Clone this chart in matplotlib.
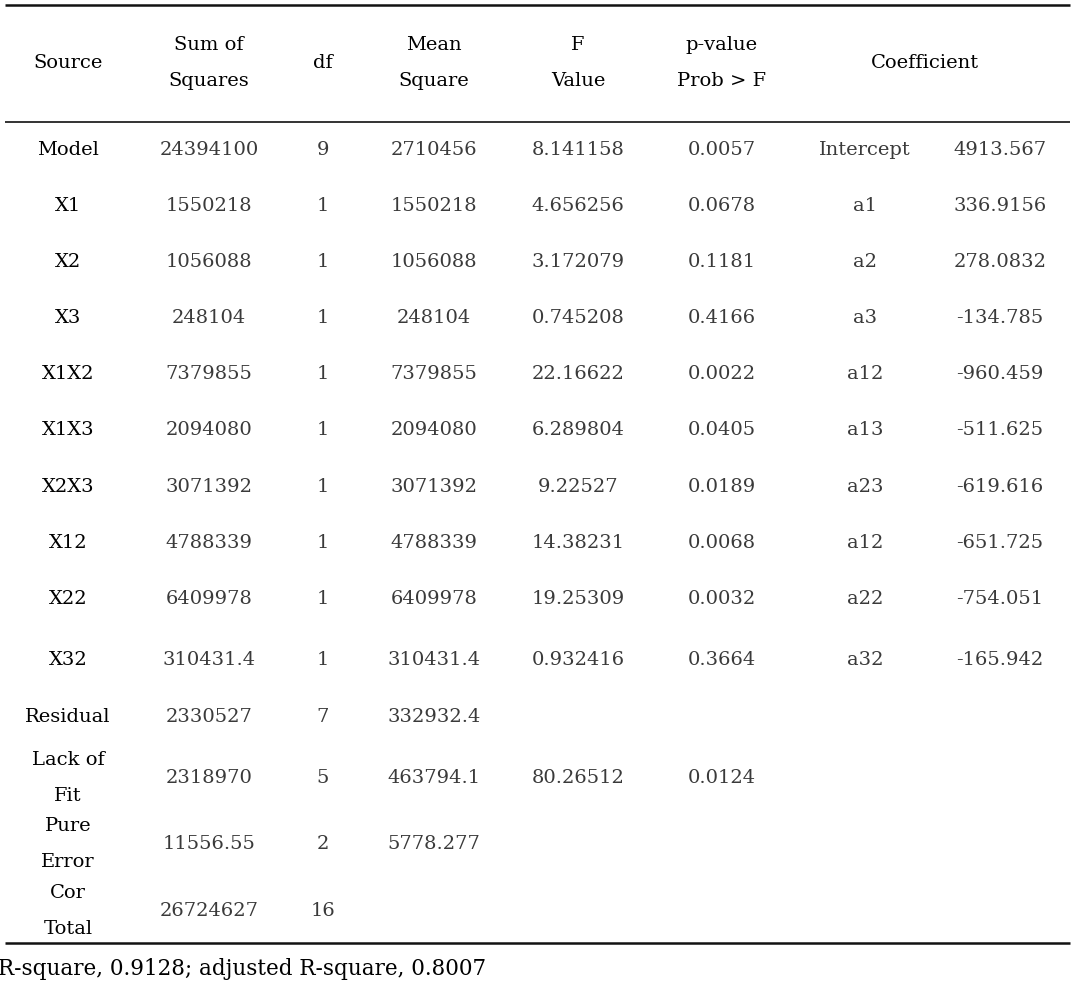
import matplotlib.pyplot as plt

# ---- table content ----
headers = ['Source', 'Sum of\nSquares', 'df', 'Mean\nSquare', 'F\nValue',
           'p-value\nProb > F']
coef_header = 'Coefficient'

sources = ['Model', 'X1', 'X2', 'X3', 'X1X2', 'X1X3', 'X2X3', 'X12', 'X22',
           'X32', 'Residual', 'Lack of\nFit', 'Pure\nError', 'Cor\nTotal']
sum_sq = ['24394100', '1550218', '1056088', '248104', '7379855', '2094080',
          '3071392', '4788339', '6409978', '310431.4', '2330527', '2318970',
          '11556.55', '26724627']
df = ['9', '1', '1', '1', '1', '1', '1', '1', '1', '1', '7', '5', '2', '16']
mean_sq = ['2710456', '1550218', '1056088', '248104', '7379855', '2094080',
           '3071392', '4788339', '6409978', '310431.4', '332932.4', '463794.1',
           '5778.277', '']
f_value = ['8.141158', '4.656256', '3.172079', '0.745208', '22.16622',
           '6.289804', '9.22527', '14.38231', '19.25309', '0.932416', '',
           '80.26512', '', '']
p_value = ['0.0057', '0.0678', '0.1181', '0.4166', '0.0022', '0.0405',
           '0.0189', '0.0068', '0.0032', '0.3664', '', '0.0124', '', '']
coef_name = ['Intercept', 'a1', 'a2', 'a3', 'a12', 'a13', 'a23', 'a12', 'a22',
             'a32', '', '', '', '']
coef_val = ['4913.567', '336.9156', '278.0832', '-134.785', '-960.459',
            '-511.625', '-619.616', '-651.725', '-754.051', '-165.942', '',
            '', '', '']
footnote = 'R-square, 0.9128; adjusted R-square, 0.8007'

# ---- layout (pixel space) ----
W, H = 1080, 993
col_x = [68, 209, 323, 434, 578, 722, 865, 1000]
row_y = [150, 206, 262, 318, 374, 430, 487, 543, 599, 660, 717, 778, 844, 911]
header_y = 63
FONT = ['DejaVu Serif']
FS = 14
LS = 2.25
NUM_COLOR = '#3a3a3a'

fig = plt.figure(figsize=(W / 100, H / 100), dpi=100)
ax = fig.add_axes([0, 0, 1, 1])
ax.set_xlim(0, W)
ax.set_ylim(H, 0)
ax.axis('off')

# rules
ax.plot([5, 1070], [5, 5], color='#111111', lw=1.8, solid_capstyle='butt')
ax.plot([5, 1070], [122, 122], color='#111111', lw=1.2, solid_capstyle='butt')
ax.plot([5, 1070], [943, 943], color='#111111', lw=1.8, solid_capstyle='butt')

# header
for x, h in zip(col_x, headers):
    ax.text(x, header_y, h, ha='center', va='center', fontsize=FS,
            family=FONT, linespacing=LS, color='black')
ax.text((col_x[6] + col_x[7]) / 2 - 8, header_y, coef_header, ha='center',
        va='center', fontsize=FS, family=FONT, color='black')

# body
columns = [sum_sq, df, mean_sq, f_value, p_value, coef_name, coef_val]
for i, y in enumerate(row_y):
    ax.text(col_x[0], y, sources[i], ha='center', va='center', fontsize=FS,
            family=FONT, linespacing=LS, color='black')
    for j, col in enumerate(columns):
        if col[i]:
            ax.text(col_x[j + 1], y, col[i], ha='center', va='center',
                    fontsize=FS, family=FONT, color=NUM_COLOR)

ax.text(-2, 969, footnote, ha='left', va='center', fontsize=15.5, family=FONT,
        color='black')

fig.savefig('out.png', dpi=100)
